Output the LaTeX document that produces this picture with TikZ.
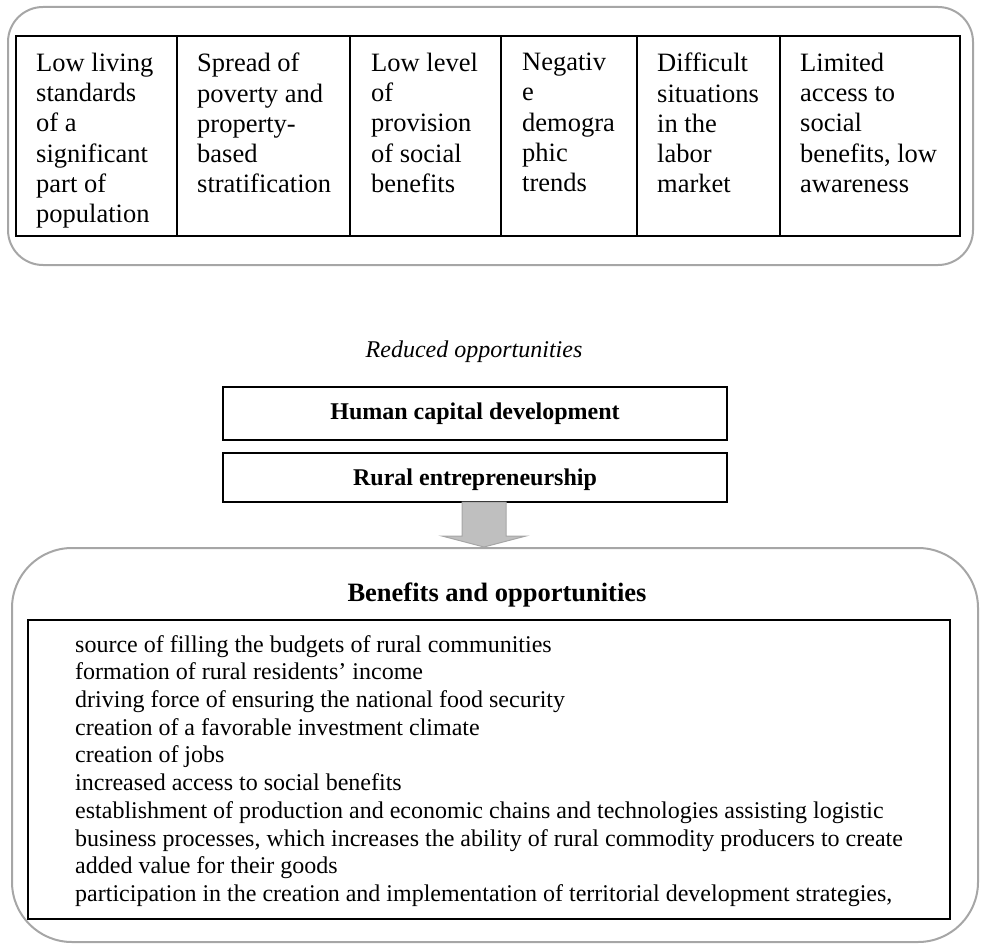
\documentclass[tikz,border=0pt]{standalone}
\usepackage{fontspec}
\setmainfont{Liberation Serif}
\usetikzlibrary{calc,positioning}
\definecolor{frameGray}{HTML}{A6A6A6}
\definecolor{arrowGray}{HTML}{BFBFBF}
\tikzset{
	cell/.style={draw, line width=2.2pt, minimum height=200, inner sep=0, outer sep=0, anchor=north west},
	celltext/.style={anchor=north west, align=left, inner sep=0, font=\fontsize{26.5}{30.2}\selectfont},
	box/.style={draw, line width=2.2pt, inner sep=0, outer sep=0, font=\bfseries\fontsize{24}{27.6}\selectfont},
	listtext/.style={anchor=north west, align=left, inner sep=0, font=\fontsize{24}{27.7}\selectfont},
	roundframe/.style={draw=frameGray, line width=2pt},
}

\begin{document}
\begin{tikzpicture}[x=1pt, y=-1pt]
			%%%%% START %%%%%
			\useasboundingbox (0,0) rectangle (982,944);
			
			\draw[roundframe, rounded corners=35] (8,7) rectangle (973,265);
			
			\node[cell, minimum width=161] (c1) at (16,36) {};
			\node[cell, minimum width=173, right=0pt of c1] (c2) {};
			\node[cell, minimum width=151, right=0pt of c2] (c3) {};
			\node[cell, minimum width=136, right=0pt of c3] (c4) {};
			\node[cell, minimum width=143, right=0pt of c4] (c5) {};
			\node[cell, minimum width=180, right=0pt of c5] (c6) {};
			
			\node[celltext] (t1) at ($(c1.north west)+(20,17)$) {Low living\\standards\\of a\\significant\\part of\\population};
			\node[celltext] (t2) at ($(c2.north west)+(20,17)$) {Spread of\\poverty and\\property-\\based\\stratification};
			\node[celltext] (t3) at ($(c3.north west)+(21,17)$) {Low level\\of\\provision\\of social\\benefits};
			\node[celltext] (t4) at ($(c4.north west)+(21,17)$) {Negativ\\e\\demogra\\phic\\trends};
			\node[celltext] (t5) at ($(c5.north west)+(20,17)$) {Difficult\\situations\\in the\\labor\\market};
			\node[celltext] (t6) at ($(c6.north west)+(20,17)$) {Limited\\access to\\social\\benefits, low\\awareness};
			
			\node[inner sep=0, font=\itshape\fontsize{24}{27.6}\selectfont] (reduced) at (474,351.5) {Reduced opportunities};
			
			\node[box, minimum width=504, minimum height=53] (human) at (475,413.5) {Human capital development};
			\node[box, minimum width=504, minimum height=49, text depth=0pt, below=13pt of human] (rural) {Rural entrepreneurship};
			
			\coordinate (atop) at ($(rural.south)+(9,0)$);
			\draw[draw=frameGray, fill=arrowGray, line width=1pt] ($(atop)+(-22,0)$) -- ++(44,0) -- ++(0,34) -- ++(20,0) -- ++(-42,11) -- ++(-42,-11) -- ++(20,0) -- cycle;
			
			\draw[roundframe, rounded corners=60] (12,548) rectangle (978,942);
			
			\node[inner sep=0, font=\bfseries\fontsize{26.5}{30}\selectfont] (benefits) at (497,595) {Benefits and opportunities};
			
			\node[cell, minimum width=922, minimum height=299] (list) at (28,620) {};
			\node[listtext] (items) at ($(list.north west)+(47,15)$) {source of filling the budgets of rural communities\\
				formation of rural residents’ income\\
				driving force of ensuring the national food security\\
				creation of a favorable investment climate\\
				creation of jobs\\
				increased access to social benefits\\
				establishment of production and economic chains and technologies assisting logistic\\
				business processes, which increases the ability of rural commodity producers to create\\
				added value for their goods\\
				participation in the creation and implementation of territorial development strategies,};
			
			%%%%% END %%%%%
\end{tikzpicture}
\end{document}
